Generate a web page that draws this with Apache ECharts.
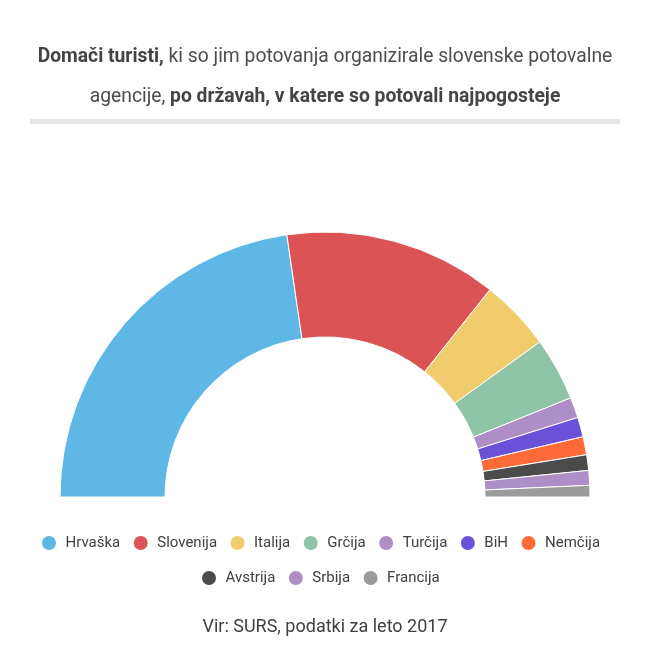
<!DOCTYPE html>
<html>
<head>
<meta charset="utf-8">
<script src="https://cdn.jsdelivr.net/npm/echarts@6/dist/echarts.min.js"></script>
<style>
html,body{margin:0;padding:0;background:#fff;}
#chart{width:650px;height:669px;}
</style>
</head>
<body>
<div id="chart"></div>
<script>
const categories = ['Hrvaška','Slovenija','Italija','Grčija','Turčija','BiH','Nemčija','Avstrija','Srbija','Francija'];
const values = [45.4, 26.0, 8.7, 7.7, 2.5, 2.4, 2.2, 1.9, 1.8, 1.4];
const colors = ['#5fb7e5','#dc5356','#f0cc6c','#8fc4a8','#ad8fc6','#6b51d8','#ff6b38','#4b4b4b','#ad8fc6','#9b9b9b'];
const legendRow1 = categories.slice(0,7);
const legendRow2 = categories.slice(7);
const sourceText = 'Vir: SURS, podatki za leto 2017';

const FONT = 'Roboto, "Noto Sans", sans-serif';
const chart = echarts.init(document.getElementById('chart'), null, {renderer:'canvas'});

const legendCommon = {
  orient: 'horizontal',
  icon: 'circle',
  itemWidth: 16,
  itemHeight: 16,
  itemGap: 11.5,
  padding: 0,
  selectedMode: false,
  textStyle: {fontFamily: FONT, fontSize: 15, color: '#404040', padding: [0,0,0,3.5]}
};

chart.setOption({
  animation: false,
  color: colors,
  title: {
    text: '{b|Domači turisti,} ki so jim potovanja organizirale slovenske potovalne\nagencije, {b|po državah, v katere so potovali najpogosteje}',
    left: 'center',
    top: 37,
    padding: 0,
    textStyle: {
      fontFamily: FONT, fontSize: 19.3, fontWeight: 'normal', color: '#4d4d4d', lineHeight: 40,
      rich: { b: {fontFamily: FONT, fontSize: 19.3, fontWeight: 'bold', color: '#444', lineHeight: 40} }
    }
  },
  legend: [
    Object.assign({}, legendCommon, {data: legendRow1, left: 40, top: 534}),
    Object.assign({}, legendCommon, {data: legendRow2, left: 200, top: 569})
  ],
  graphic: [
    {type:'rect', shape:{x:30, y:119, width:590, height:5}, style:{fill:'#e6e6e6'}},
    {type:'text', x:325, y:627, style:{text: sourceText, fill:'#404040', font: '18px ' + FONT, textAlign:'center', textVerticalAlign:'middle'}}
  ],
  series: [{
    type: 'pie',
    center: [325, 497],
    radius: [160, 265],
    startAngle: 180,
    endAngle: 360,
    clockwise: true,
    label: {show: false},
    labelLine: {show: false},
    itemStyle: {borderColor: '#fff', borderWidth: 1},
    data: categories.map((c,i) => ({name: c, value: values[i]}))
  }]
});
</script>
</body>
</html>
